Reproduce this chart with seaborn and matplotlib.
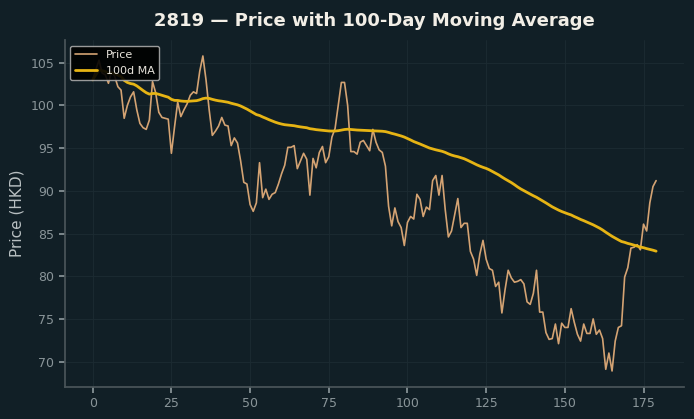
import numpy as np
import pandas as pd
import matplotlib
matplotlib.use("Agg")
import matplotlib.pyplot as plt
import seaborn as sns

# closing prices (one per trading day)
price = [
    103.0, 104.2, 105.3, 103.8, 103.6, 102.6, 104.0, 103.4, 102.2, 101.8,
    98.5, 100.0, 101.0, 101.6, 99.5, 97.9, 97.4, 97.2, 98.3, 102.8,
    101.5, 99.2, 98.6, 98.5, 98.4, 94.4, 97.5, 100.4, 98.7, 99.5,
    100.2, 101.2, 101.6, 101.4, 104.0, 105.8, 103.0, 99.5, 96.5, 97.0,
    97.6, 98.6, 97.7, 97.6, 95.3, 96.2, 95.6, 93.5, 91.0, 90.8,
    88.4, 87.6, 88.6, 93.3, 89.2, 90.2, 89.0, 89.6, 89.8, 90.8,
    92.0, 93.0, 95.1, 95.1, 95.3, 92.6, 93.5, 94.4, 93.7, 89.5,
    93.8, 92.7, 94.5, 95.2, 93.3, 94.0, 96.3, 97.3, 100.0, 102.7,
    102.7, 100.0, 94.6, 94.6, 94.3, 95.7, 95.9, 95.3, 94.7, 97.2,
    95.7, 94.8, 94.5, 92.9, 88.2, 85.9, 88.0, 86.4, 85.7, 83.6,
    86.3, 87.0, 86.7, 89.6, 89.0, 87.0, 88.1, 87.8, 91.2, 91.8,
    89.5, 91.8, 87.8, 84.6, 85.3, 87.2, 89.1, 85.7, 86.2, 86.2,
    82.9, 82.0, 80.1, 82.6, 84.2, 82.0, 80.9, 80.7, 78.8, 79.3,
    75.7, 78.4, 80.7, 79.8, 79.3, 79.4, 79.6, 79.1, 77.0, 76.7,
    78.0, 80.7, 75.8, 75.8, 73.4, 72.6, 72.7, 74.4, 72.1, 74.5,
    74.0, 74.0, 76.2, 74.6, 73.2, 72.4, 74.4, 73.3, 73.3, 75.0,
    73.2, 73.7, 72.7, 69.1, 71.0, 68.9, 72.4, 74.0, 74.2, 79.9,
    81.0, 83.3, 83.4, 83.7, 83.1, 86.1, 85.3, 88.6, 90.5, 91.2,
]
window = 100

df = pd.DataFrame({"day": np.arange(len(price)), "price": price})
df["ma"] = df["price"].rolling(window, min_periods=1).mean()

bg = "#111f26"
sns.set_theme(style="dark", rc={
    "figure.facecolor": bg,
    "axes.facecolor": bg,
    "axes.edgecolor": "#4a5559",
    "grid.color": "#1c2b32",
    "xtick.color": "#8a9599",
    "ytick.color": "#8a9599",
    "text.color": "#e8e4dc",
    "axes.labelcolor": "#b9c0c2",
})
plt.rcParams["font.family"] = ["DejaVu Sans"]

fig, ax = plt.subplots(figsize=(6.94, 4.19), dpi=100)
fig.subplots_adjust(left=0.093, right=0.986, top=0.904, bottom=0.077)

sns.lineplot(data=df, x="day", y="price", ax=ax, color="#d4a373", lw=1.2, label="Price")
sns.lineplot(data=df, x="day", y="ma", ax=ax, color="#e6b414", lw=2, label="100d MA")

ax.grid(True, lw=0.6)
ax.tick_params(axis="both", labelsize=9, length=4, bottom=True, left=True, color="#8a9599")
ax.set_xticks(range(0, 176, 25))
ax.set_yticks(range(70, 106, 5))
ax.set_xlabel("")
ax.set_ylabel("Price (HKD)", fontsize=11)
for side in ["top", "right"]:
    ax.spines[side].set_visible(False)

ax.set_title("2819 — Price with 100-Day Moving Average", fontsize=13,
             fontweight="bold", color="#f2eee6", pad=10)

leg = ax.legend(loc="upper left", fontsize=8, facecolor="#000000",
                edgecolor="#aaaaaa", framealpha=0.9)
for t in leg.get_texts():
    t.set_color("#e8e4dc")

plt.savefig("out.png", dpi=100, facecolor=bg)
plt.close()
